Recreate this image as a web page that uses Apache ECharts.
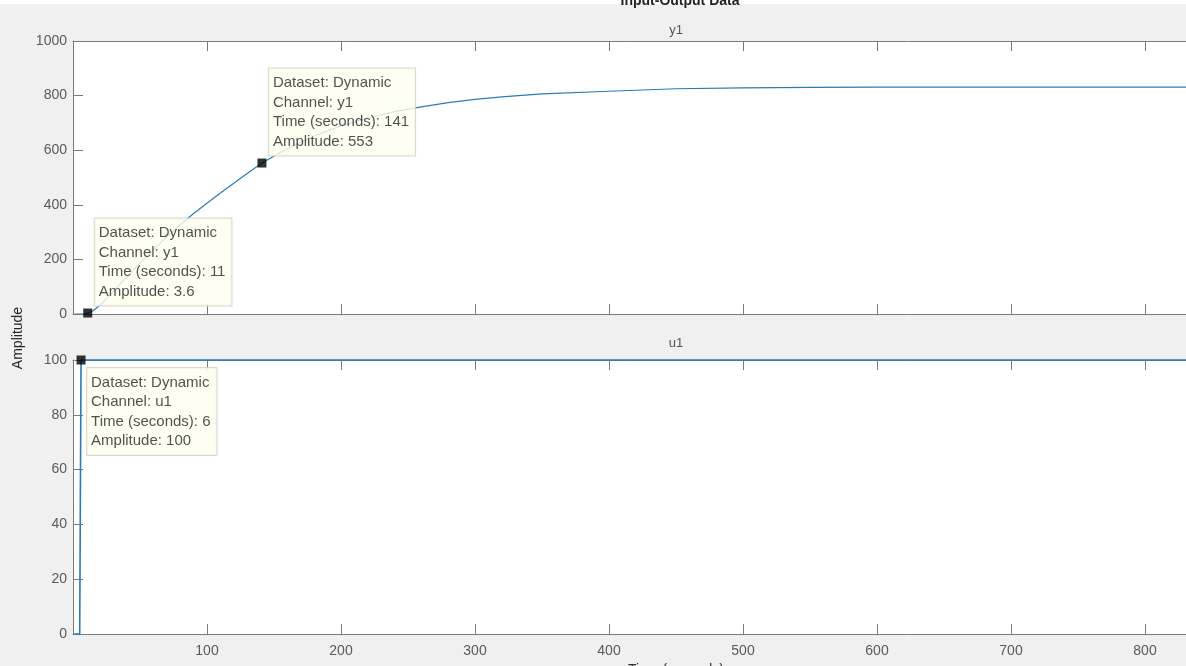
<!DOCTYPE html>
<html>
<head>
<meta charset="utf-8">
<script src="https://cdn.jsdelivr.net/npm/echarts@6/dist/echarts.min.js"></script>
<style>
  html, body { margin: 0; padding: 0; background: #f0f0f0; }
  #chart { width: 1186px; height: 666px; }
</style>
</head>
<body>
<div id="chart"></div>
<script>
// Output channel y1 (step response), sampled times and amplitudes
const y1Time = [1, 6, 8, 10, 11, 13, 15, 20, 25, 30, 40, 50, 60, 70, 80, 90, 100, 110, 120, 130, 141,
  160, 180, 200, 220, 240, 260, 280, 300, 320, 350, 400, 450, 500, 550, 600, 700, 800, 900];
const y1Values = [0, 0, 0.6, 2.2, 3.6, 7, 12, 32, 56, 82, 136, 187, 236, 283, 327, 368, 406, 443, 479, 515, 553,
  606, 652, 689, 718, 741, 759, 774, 786, 795, 806, 816, 825, 828, 830, 831, 831, 831, 831];

// Input channel u1 (step of 100)
const u1Time = [1, 5, 6, 900];
const u1Values = [0, 0, 100, 100];

// Data tips
const y1TipTimes = [11, 141];
const y1TipValues = [3.6, 553];
const u1TipTimes = [6];
const u1TipValues = [100];

// Axis ticks
const timeMin = 0, timeMax = 900, timeStep = 100;
const y1Min = 0, y1Max = 1000, y1Step = 200;
const u1Min = 0, u1Max = 100, u1Step = 20;

const FONT = '"Liberation Sans", Arial, Helvetica, sans-serif';
const AXIS_COLOR = '#7a7a7a';
const LABEL_COLOR = '#5a5a5a';
const LINE_COLOR = '#2a7ab8';

const chart = echarts.init(document.getElementById('chart'), null, { renderer: 'canvas' });

function xAxis(gridIndex, position, opts) {
  return Object.assign({
    type: 'value', gridIndex, position,
    min: timeMin, max: timeMax, interval: timeStep,
    axisLine: { show: true, onZero: false, lineStyle: { color: AXIS_COLOR, width: 1 } },
    axisTick: { show: true, inside: true, length: 10, lineStyle: { color: AXIS_COLOR } },
    axisLabel: { show: false },
    splitLine: { show: false }
  }, opts);
}

function yAxis(gridIndex, min, max, step) {
  return {
    type: 'value', gridIndex, position: 'left',
    min, max, interval: step,
    axisLine: { show: true, onZero: false, lineStyle: { color: AXIS_COLOR, width: 1 } },
    axisTick: { show: true, inside: true, length: 10, lineStyle: { color: AXIS_COLOR } },
    axisLabel: {
      show: true, margin: 6, color: LABEL_COLOR, fontSize: 14, fontFamily: FONT,
      formatter: v => String(v)
    },
    splitLine: { show: false }
  };
}

function tipLabel(channel, offset) {
  return {
    show: true,
    position: offset,
    align: 'left',
    verticalAlign: 'top',
    formatter: p => 'Dataset: Dynamic\nChannel: ' + channel +
      '\nTime (seconds): ' + p.value[0] + '\nAmplitude: ' + p.value[1],
    color: '#262626',
    fontSize: 15,
    lineHeight: 19.5,
    fontFamily: FONT,
    backgroundColor: '#ffffee',
    borderColor: '#cdcdc0',
    borderWidth: 1,
    padding: [5, 6, 4, 4]
  };
}

const TIP_ABOVE = [11.5, -90];
const TIP_BELOW = [10.5, 12.5];

const subTitleStyle = { color: '#555555', fontSize: 13, fontFamily: FONT };

const option = {
  animation: false,
  backgroundColor: '#f0f0f0',
  grid: [
    { left: 73, top: 41, width: 1206, height: 273, outerBoundsMode: 'none', containLabel: false,
      show: true, backgroundColor: '#ffffff', borderWidth: 0 },
    { left: 73, top: 360, width: 1206, height: 274, outerBoundsMode: 'none', containLabel: false,
      show: true, backgroundColor: '#ffffff', borderWidth: 0 }
  ],
  xAxis: [
    xAxis(0, 'bottom'),
    xAxis(0, 'top', { name: 'y1', nameLocation: 'middle', nameGap: 4, nameTextStyle: subTitleStyle }),
    xAxis(1, 'bottom', {
      axisLabel: { show: true, showMinLabel: false, margin: 10, color: LABEL_COLOR, fontSize: 14, fontFamily: FONT },
      name: 'Time (seconds)', nameLocation: 'middle', nameGap: 29,
      nameTextStyle: { color: '#333333', fontSize: 14, fontFamily: FONT }
    }),
    xAxis(1, 'top', { name: 'u1', nameLocation: 'middle', nameGap: 10, nameTextStyle: subTitleStyle })
  ],
  yAxis: [
    yAxis(0, y1Min, y1Max, y1Step),
    yAxis(1, u1Min, u1Max, u1Step)
  ],
  graphic: [
    { type: 'rect', left: 0, top: 0, z: 0, shape: { width: 1186, height: 4 }, style: { fill: '#ffffff' } },
    {
      type: 'text', x: 680, y: 1, z: 10,
      style: { text: 'Input-Output Data', font: 'bold 14px ' + FONT, fill: '#222222', align: 'center', verticalAlign: 'middle' }
    },
    {
      type: 'text', x: 18, y: 338, rotation: Math.PI / 2, z: 10,
      style: { text: 'Amplitude', font: '14px ' + FONT, fill: '#262626', align: 'center', verticalAlign: 'middle' }
    }
  ],
  series: [
    {
      name: 'y1', type: 'line', xAxisIndex: 0, yAxisIndex: 0,
      data: y1Time.map((t, i) => [t, y1Values[i]]),
      showSymbol: false, smooth: false,
      lineStyle: { color: LINE_COLOR, width: 1.2 }, z: 3
    },
    {
      name: 'u1', type: 'line', xAxisIndex: 2, yAxisIndex: 1,
      data: u1Time.map((t, i) => [t, u1Values[i]]),
      showSymbol: false, clip: false,
      lineStyle: { color: LINE_COLOR, width: 1.6 }, z: 3
    },
    {
      name: 'y1 tips', type: 'scatter', xAxisIndex: 0, yAxisIndex: 0,
      symbol: 'rect', symbolSize: 9, itemStyle: { color: '#000000' }, z: 5,
      data: y1TipTimes.map((t, i) => ({ value: [t, y1TipValues[i]], label: tipLabel('y1', TIP_ABOVE) }))
    },
    {
      name: 'u1 tips', type: 'scatter', xAxisIndex: 2, yAxisIndex: 1, clip: false,
      symbol: 'rect', symbolSize: 9, itemStyle: { color: '#000000' }, z: 5,
      data: u1TipTimes.map((t, i) => ({ value: [t, u1TipValues[i]], label: tipLabel('u1', TIP_BELOW) }))
    }
  ]
};

chart.setOption(option);
</script>
</body>
</html>
